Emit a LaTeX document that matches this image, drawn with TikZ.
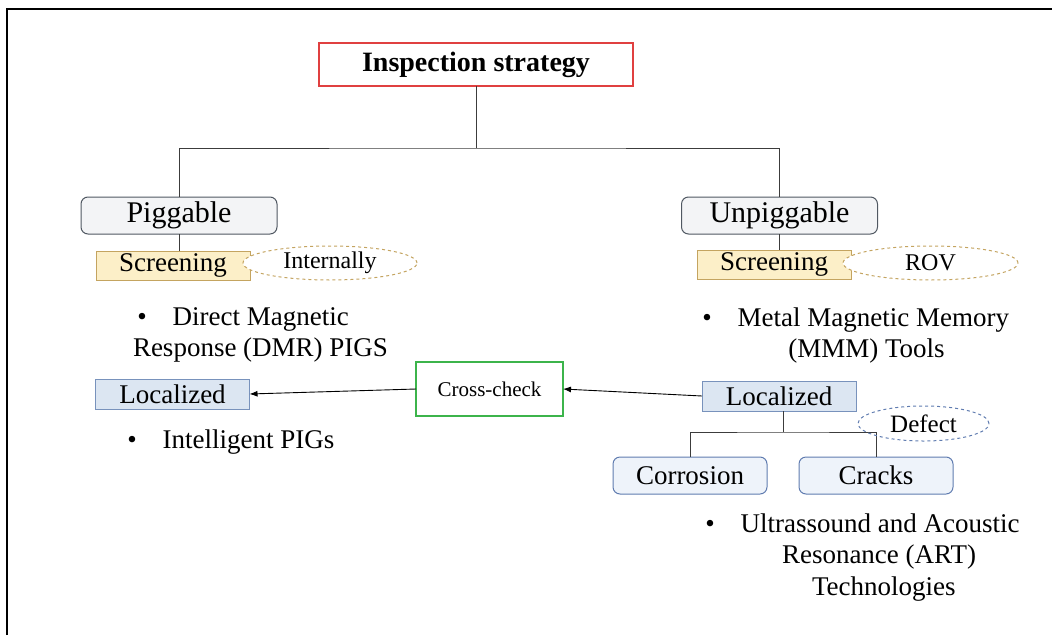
\documentclass[tikz,border=0pt]{standalone}
\usepackage{fontspec}
\setmainfont{Liberation Serif}
\usetikzlibrary{shapes.geometric,arrows.meta}
\definecolor{titlered}{RGB}{224,64,64}
\definecolor{grayfill}{RGB}{243,244,246}
\definecolor{grayline}{RGB}{80,88,98}
\definecolor{scrfill}{RGB}{252,239,200}
\definecolor{scrline}{RGB}{196,164,96}
\definecolor{locfill}{RGB}{220,230,242}
\definecolor{locline}{RGB}{120,146,188}
\definecolor{ccgreen}{RGB}{60,180,75}
\definecolor{defill}{RGB}{238,243,250}
\definecolor{deline}{RGB}{96,124,176}
\definecolor{conn}{RGB}{60,60,60}
\begin{document}
\begin{tikzpicture}[x=1pt,y=-1pt,
  every node/.style={inner sep=0pt, outer sep=0pt},
  txt/.style={font=\fontsize{27}{31}\selectfont},
  titlebox/.style={draw=titlered, line width=1.2pt, fill=white, minimum width=314pt, minimum height=43pt, font=\fontsize{28}{32}\selectfont\bfseries},
  graybox/.style={draw=grayline, line width=1pt, fill=grayfill, rounded corners=7pt, minimum width=196pt, minimum height=37pt, font=\fontsize{30}{34}\selectfont},
  scrbox/.style={draw=scrline, line width=1pt, fill=scrfill, minimum width=154pt, minimum height=29pt, txt},
  tanell/.style={ellipse, draw=scrline, dashed, line width=1pt, fill=white, font=\fontsize{24}{28}\selectfont},
  locbox/.style={draw=locline, line width=1pt, fill=locfill, minimum width=154pt, minimum height=30pt, txt},
  ccbox/.style={draw=ccgreen, line width=1.2pt, fill=white, minimum width=147pt, minimum height=54pt, font=\fontsize{21}{25}\selectfont},
  defbox/.style={draw=deline, line width=1pt, fill=defill, rounded corners=7pt, minimum width=154pt, minimum height=37pt, txt},
  blueell/.style={ellipse, draw=deline, dashed, line width=1pt, font=\fontsize{25}{29}\selectfont},
  bullets/.style={txt, align=left, anchor=base west},
  link/.style={draw=conn, line width=1pt},
  arr/.style={draw=black, line width=0.9pt, -{Latex[length=8pt,width=6pt]}}
]
\useasboundingbox (0,0) rectangle (1052,635);
\draw[line width=2pt] (7,635) -- (7,9) -- (1052,9);

\node[titlebox] (title) at (476,64.5) {Inspection strategy};
\node[graybox] (pig) at (179,215.5) {Piggable};
\node[graybox] (unpig) at (779.5,215.5) {Unpiggable};

\draw[link] (title.south) -- ++(0,62) coordinate (tj);
\draw[link] (pig.north) |- (tj) -| (unpig.north);

\node[scrbox] (scrL) at (173,265.5) {Screening};
\node[scrbox] (scrR) at (774,264.5) {Screening};
\draw[link] (pig.south) -- (pig.south |- scrL.north);
\draw[link] (unpig.south) -- (unpig.south |- scrR.north);
\node[tanell, minimum width=174pt, minimum height=34pt] (intl) at (330,263) {Internally};
\node[tanell, minimum width=175pt, minimum height=34pt] (rov) at (930.5,263) {ROV};

% base anchor of a multi-line node = baseline of its last line
\node[bullets] (dmr) at (133,356) {\hspace*{4.3pt}\textbullet\hspace{26pt}Direct Magnetic\\Response (DMR) PIGS};
\node[bullets] (mmm) at (702.3,357) {\textbullet\hspace{26pt}Metal Magnetic Memory\\\hspace*{86pt}(MMM) Tools};

\node[locbox] (locL) at (172.5,394) {Localized};
\node[ccbox] (cc) at (489.5,389) {Cross-check};
\node[locbox] (locR) at (779,396) {Localized};
\draw[arr] (locR.west) -- (cc.east);
\draw[arr] (cc.west) -- (locL.east);

\node[bullets] (ipig) at (127.3,448) {\textbullet\hspace{26pt}Intelligent PIGs};

\node[defbox] (corr) at (690,475.5) {Corrosion};
\node[defbox] (crack) at (876,475.5) {Cracks};
\draw[link] ([xshift=4pt]locR.south) -- ++(0,21) coordinate (lj);
\draw[link] (corr.north) |- (lj) -| (crack.north);
\node[blueell, minimum width=131pt, minimum height=35pt] (defect) at (923.5,423.5) {Defect};

\node[bullets, font=\fontsize{27}{31.5}\selectfont] (art) at (705.3,595) {\textbullet\hspace{26pt}Ultrassound and Acoustic\\\hspace*{76.7pt}Resonance (ART)\\\hspace*{106.7pt}Technologies};
\end{tikzpicture}
\end{document}
